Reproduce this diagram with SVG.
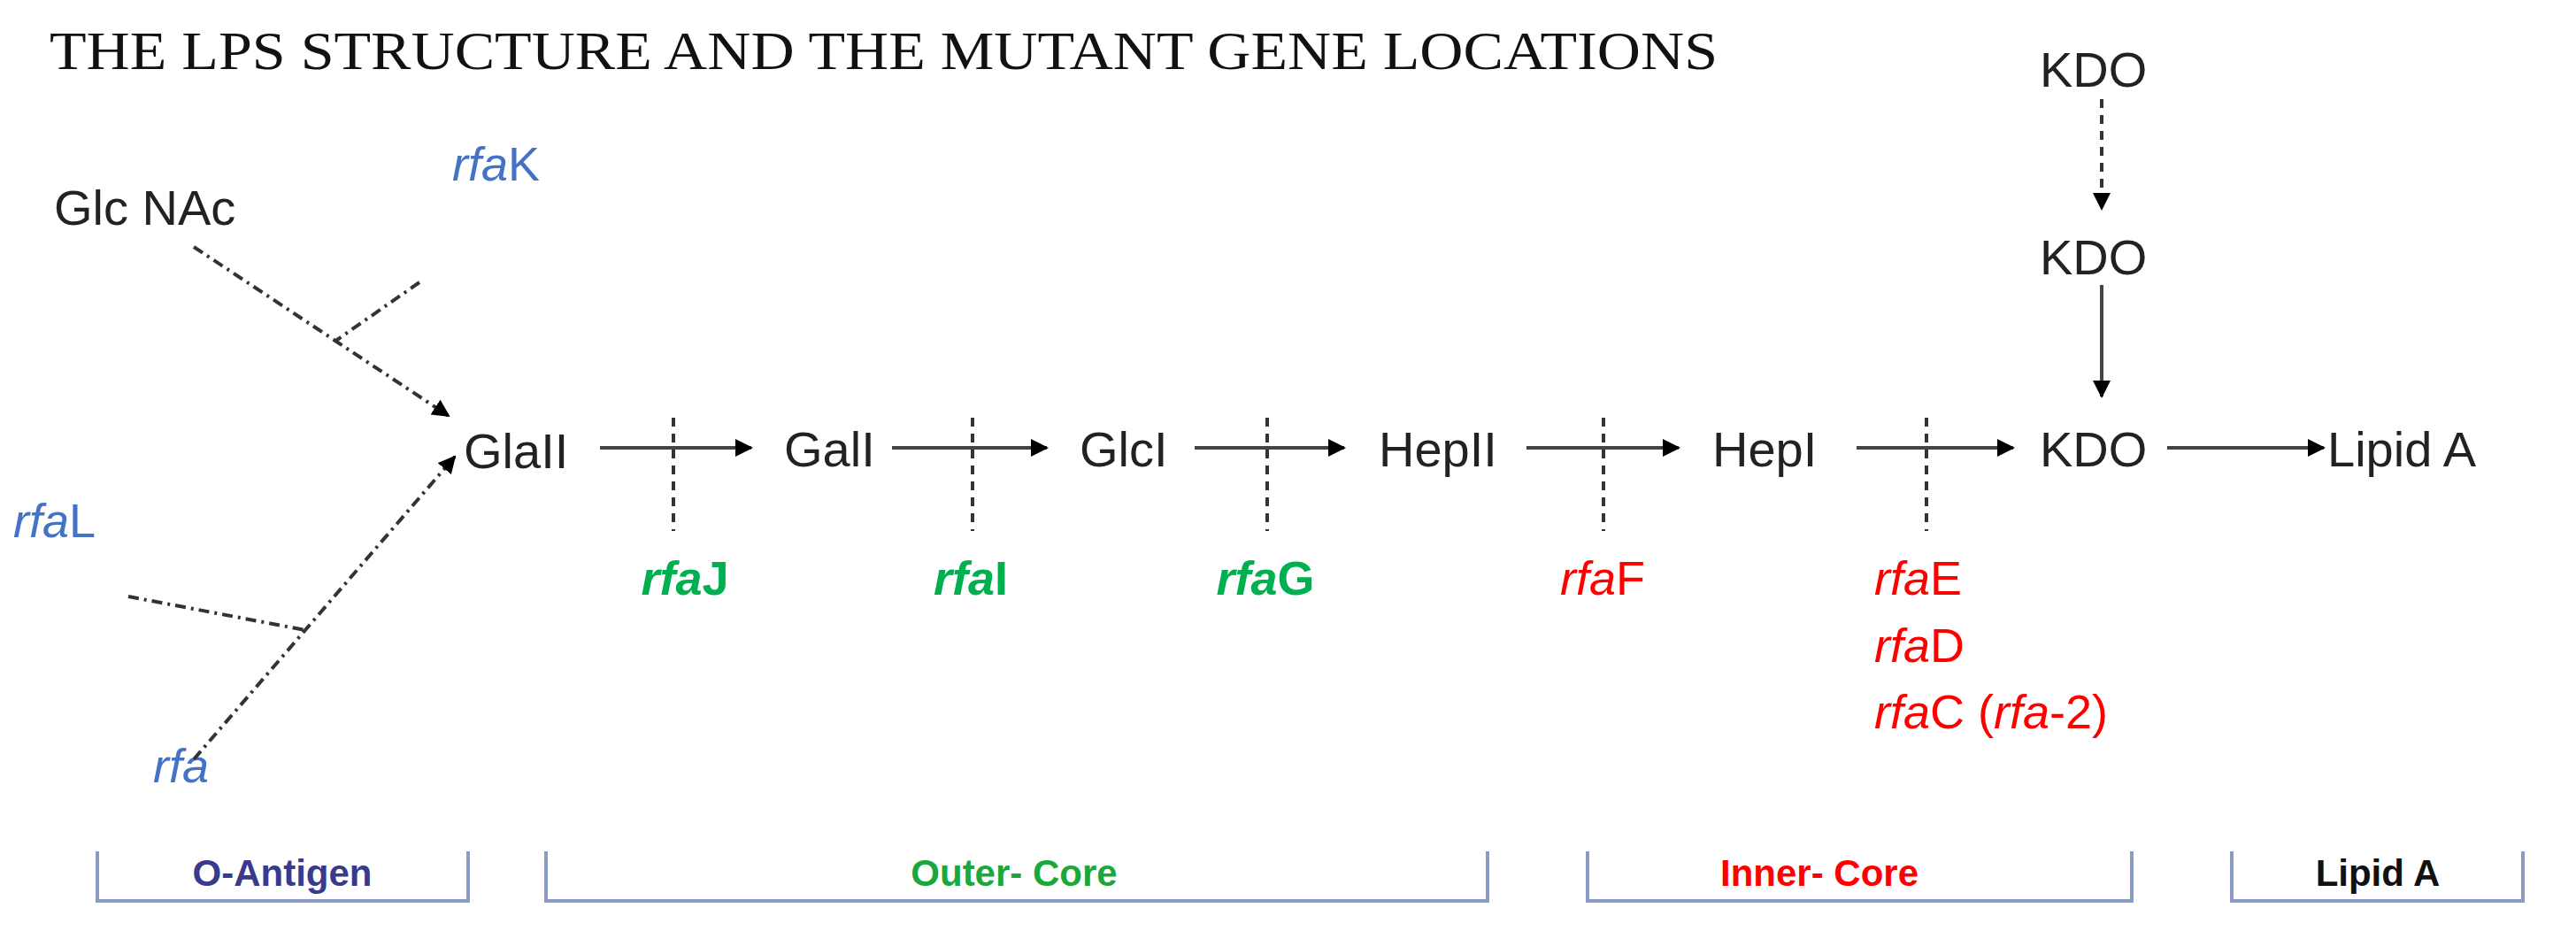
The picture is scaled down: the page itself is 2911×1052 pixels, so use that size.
<svg xmlns="http://www.w3.org/2000/svg" width="2911" height="1052" viewBox="0 0 2911 1052">
<defs>
<marker id="ah" viewBox="0 0 10 10" refX="9" refY="5" markerWidth="5" markerHeight="5" orient="auto"><path d="M0,0 L10,5 L0,10 z" fill="#000"/></marker>
<style>
.t{font-family:"Liberation Serif",serif;font-size:62px;fill:#111}
.n{font-family:"Liberation Sans",sans-serif;font-size:56px;fill:#222}
.g{font-family:"Liberation Sans",sans-serif;font-size:54px}
.i{font-style:italic}
.b{font-family:"Liberation Sans",sans-serif;font-size:42px;font-weight:bold;text-anchor:middle}
.br{fill:none;stroke:#8a9cc4;stroke-width:4}
.s{stroke:#444;stroke-width:4;fill:none}
.d{stroke:#333;stroke-width:4;stroke-dasharray:10 8;fill:none}
.dd{stroke:#333;stroke-width:4;stroke-dasharray:12 6 3 6;fill:none}
</style>
</defs>
<text class="t" x="56" y="78" textLength="1885" lengthAdjust="spacingAndGlyphs">THE LPS STRUCTURE AND THE MUTANT GENE LOCATIONS</text>
<g id="nodes">
<g id="glcnac"><text class="n" x="61" y="254">Glc NAc</text></g>
<g id="glaII"><text class="n" x="524" y="529">GlaII</text></g>
<g id="galI"><text class="n" x="886" y="527">GalI</text></g>
<g id="glcI"><text class="n" x="1220" y="527">GlcI</text></g>
<g id="hepII"><text class="n" x="1558" y="527">HepII</text></g>
<g id="hepI"><text class="n" x="1935" y="527">HepI</text></g>
<g id="kdo1"><text class="n" x="2305" y="527">KDO</text></g>
<g id="kdo2"><text class="n" x="2305" y="310">KDO</text></g>
<g id="kdo3"><text class="n" x="2305" y="98">KDO</text></g>
<g id="lipidA"><text class="n" x="2630" y="527">Lipid A</text></g>
</g>
<g id="genes" class="g">
<text x="511" y="204" fill="#4472c4"><tspan class="i">rfa</tspan>K</text>
<text x="15" y="607" fill="#4472c4"><tspan class="i">rfa</tspan>L</text>
<text x="173" y="884" fill="#4472c4" class="i">rfa</text>
<text x="774" y="672" fill="#00b050" text-anchor="middle" font-weight="bold"><tspan class="i">rfa</tspan>J</text>
<text x="1097" y="672" fill="#00b050" text-anchor="middle" font-weight="bold"><tspan class="i">rfa</tspan>I</text>
<text x="1430" y="672" fill="#00b050" text-anchor="middle" font-weight="bold"><tspan class="i">rfa</tspan>G</text>
<text x="1811" y="672" fill="#ff0000" text-anchor="middle"><tspan class="i">rfa</tspan>F</text>
<text x="2118" y="672" fill="#ff0000"><tspan class="i">rfa</tspan>E</text>
<text x="2118" y="748" fill="#ff0000"><tspan class="i">rfa</tspan>D</text>
<text x="2118" y="823" fill="#ff0000"><tspan class="i">rfa</tspan>C (<tspan class="i">rfa</tspan>-2)</text>
</g>
<g id="connectors">
<line class="s" x1="678" y1="506" x2="849" y2="506" marker-end="url(#ah)"/>
<line class="s" x1="1008" y1="506" x2="1183" y2="506" marker-end="url(#ah)"/>
<line class="s" x1="1350" y1="506" x2="1519" y2="506" marker-end="url(#ah)"/>
<line class="s" x1="1725" y1="506" x2="1897" y2="506" marker-end="url(#ah)"/>
<line class="s" x1="2098" y1="506" x2="2275" y2="506" marker-end="url(#ah)"/>
<line class="s" x1="2449" y1="506" x2="2626" y2="506" marker-end="url(#ah)"/>
<line class="d" x1="761" y1="472" x2="761" y2="600"/>
<line class="d" x1="1099" y1="472" x2="1099" y2="600"/>
<line class="d" x1="1432" y1="472" x2="1432" y2="600"/>
<line class="d" x1="1812" y1="472" x2="1812" y2="600"/>
<line class="d" x1="2177" y1="472" x2="2177" y2="600"/>
<line class="d" x1="2375" y1="112" x2="2375" y2="236" marker-end="url(#ah)"/>
<line class="s" x1="2375" y1="322" x2="2375" y2="448" marker-end="url(#ah)"/>
<line class="dd" x1="219" y1="279" x2="507" y2="470" marker-end="url(#ah)"/>
<line class="dd" x1="474" y1="319" x2="378" y2="386"/>
<line class="dd" x1="219" y1="858" x2="514" y2="516" marker-end="url(#ah)"/>
<line class="dd" x1="145" y1="674" x2="345" y2="712"/>
</g>
<g id="brackets">
<path class="br" d="M110,962 V1018 H529 V962"/>
<path class="br" d="M617,962 V1018 H1681 V962"/>
<path class="br" d="M1794,962 V1018 H2409 V962"/>
<path class="br" d="M2522,962 V1018 H2851 V962"/>
<text class="b" x="319" y="1001" fill="#3a3a8c">O-Antigen</text>
<text class="b" x="1146" y="1001" fill="#1aa83c">Outer- Core</text>
<text class="b" x="2056" y="1001" fill="#ff0000">Inner- Core</text>
<text class="b" x="2687" y="1001" fill="#111">Lipid A</text>
</g>
</svg>
